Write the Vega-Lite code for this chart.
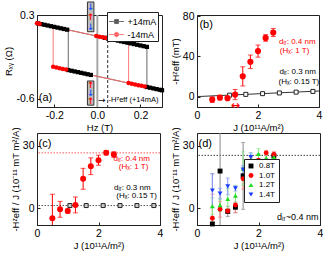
{
  "$schema": "https://vega.github.io/schema/vega-lite/v6.json",
  "padding": {"left": 3, "top": 0, "right": 0, "bottom": 0},
  "bounds": "flush",
  "columns": 2,
  "spacing": {"row": 26, "column": 35},
  "resolve": {
    "scale": {"color": "independent", "shape": "independent", "stroke": "independent", "fill": "independent"},
    "legend": {"color": "independent", "shape": "independent", "stroke": "independent", "fill": "independent"}
  },
  "config": {
    "font": "Liberation Sans",
    "view": {"stroke": "#222222", "strokeWidth": 1},
    "axis": {"grid": false, "domainColor": "#222222", "tickColor": "#222222", "tickSize": -3, "labelPadding": 6, "labelFontSize": 10.5, "titleFontSize": 9.5, "titleFontWeight": "normal", "labelColor": "#000000", "titleColor": "#000000", "titlePadding": 2, "labelFlush": false, "labelOverlap": false},
    "text": {"font": "Liberation Sans"}
  },
  "datasets": {
    "aLines": [
      {"s": "+14mA", "i": 0, "H": -0.28, "R": 0.212},
      {"s": "+14mA", "i": 1, "H": 0.23, "R": -0.043},
      {"s": "+14mA", "i": 2, "H": 0.23, "R": -0.475},
      {"s": "+14mA", "i": 3, "H": 0.3, "R": -0.51},
      {"s": "+14mA", "i": 4, "H": -0.135, "R": -0.2925},
      {"s": "+14mA", "i": 5, "H": -0.135, "R": 0.1395},
      {"s": "-14mA", "i": 0, "H": -0.28, "R": 0.212},
      {"s": "-14mA", "i": 1, "H": 0.145, "R": 0.0},
      {"s": "-14mA", "i": 2, "H": 0.145, "R": -0.4325},
      {"s": "-14mA", "i": 3, "H": 0.3, "R": -0.51},
      {"s": "-14mA", "i": 4, "H": -0.205, "R": -0.2575},
      {"s": "-14mA", "i": 5, "H": -0.205, "R": 0.1745}
    ],
    "aPts": [
      {"s": "+14mA", "H": -0.275, "R": 0.2095}, {"s": "+14mA", "H": -0.26, "R": 0.202}, {"s": "+14mA", "H": -0.245, "R": 0.1945}, {"s": "+14mA", "H": -0.23, "R": 0.187}, {"s": "+14mA", "H": -0.215, "R": 0.1795}, {"s": "+14mA", "H": -0.2, "R": 0.172}, {"s": "+14mA", "H": -0.185, "R": 0.1645}, {"s": "+14mA", "H": -0.17, "R": 0.157}, {"s": "+14mA", "H": -0.155, "R": 0.1495}, {"s": "+14mA", "H": -0.14, "R": 0.142},
      {"s": "+14mA", "H": 0.035, "R": 0.0545},
      {"s": "+14mA", "H": 0.05, "R": 0.047}, {"s": "+14mA", "H": 0.065, "R": 0.0395}, {"s": "+14mA", "H": 0.08, "R": 0.032}, {"s": "+14mA", "H": 0.095, "R": 0.0245}, {"s": "+14mA", "H": 0.11, "R": 0.017}, {"s": "+14mA", "H": 0.125, "R": 0.0095}, {"s": "+14mA", "H": 0.14, "R": 0.002}, {"s": "+14mA", "H": 0.155, "R": -0.0055}, {"s": "+14mA", "H": 0.17, "R": -0.013}, {"s": "+14mA", "H": 0.185, "R": -0.0205}, {"s": "+14mA", "H": 0.2, "R": -0.028}, {"s": "+14mA", "H": 0.215, "R": -0.0355}, {"s": "+14mA", "H": 0.23, "R": -0.043},
      {"s": "+14mA", "H": -0.135, "R": -0.2925}, {"s": "+14mA", "H": -0.12, "R": -0.3}, {"s": "+14mA", "H": -0.105, "R": -0.3075}, {"s": "+14mA", "H": -0.09, "R": -0.315}, {"s": "+14mA", "H": -0.075, "R": -0.3225}, {"s": "+14mA", "H": -0.06, "R": -0.33}, {"s": "+14mA", "H": -0.045, "R": -0.3375}, {"s": "+14mA", "H": -0.03, "R": -0.345},
      {"s": "+14mA", "H": 0.23, "R": -0.475}, {"s": "+14mA", "H": 0.245, "R": -0.4825}, {"s": "+14mA", "H": 0.26, "R": -0.49}, {"s": "+14mA", "H": 0.275, "R": -0.4975}, {"s": "+14mA", "H": 0.29, "R": -0.505}, {"s": "+14mA", "H": 0.3, "R": -0.51},
      {"s": "-14mA", "H": -0.28, "R": 0.212}, {"s": "-14mA", "H": -0.268, "R": 0.206},
      {"s": "-14mA", "H": -0.005, "R": 0.0745}, {"s": "-14mA", "H": 0.01, "R": 0.067}, {"s": "-14mA", "H": 0.025, "R": 0.0595}, {"s": "-14mA", "H": 0.04, "R": 0.052},
      {"s": "-14mA", "H": -0.205, "R": -0.2575}, {"s": "-14mA", "H": -0.19, "R": -0.265}, {"s": "-14mA", "H": -0.175, "R": -0.2725}, {"s": "-14mA", "H": -0.16, "R": -0.28}, {"s": "-14mA", "H": -0.145, "R": -0.2875},
      {"s": "-14mA", "H": 0.145, "R": -0.4325}, {"s": "-14mA", "H": 0.16, "R": -0.44}, {"s": "-14mA", "H": 0.175, "R": -0.4475}, {"s": "-14mA", "H": 0.19, "R": -0.455}, {"s": "-14mA", "H": 0.205, "R": -0.4625}, {"s": "-14mA", "H": 0.22, "R": -0.47}
    ],
    "aBoxes": [
      {"H": -0.046, "H2": -0.016, "R": 0.12, "R2": 0.44},
      {"H": -0.046, "H2": -0.016, "R": -0.67, "R2": -0.41}
    ],
    "aArrows": [
      {"H": -0.031, "R": 0.385, "a": "↓"},
      {"H": -0.031, "R": 0.28, "a": "↑"},
      {"H": -0.031, "R": 0.175, "a": "↓"},
      {"H": -0.031, "R": -0.455, "a": "↑"},
      {"H": -0.031, "R": -0.54, "a": "↓"},
      {"H": -0.031, "R": -0.625, "a": "↑"}
    ],
    "bRed": [
      {"J": 0.5, "v": -2.7, "e": 2.7}, {"J": 0.75, "v": -0.7, "e": 2.3}, {"J": 1.0, "v": -1.3, "e": 1.2},
      {"J": 1.25, "v": 2.3, "e": 5}, {"J": 1.5, "v": 20.3, "e": 9.5}, {"J": 1.75, "v": 34.7, "e": 6.7},
      {"J": 2.0, "v": 45.3, "e": 6}, {"J": 2.25, "v": 58.3, "e": 3.3}, {"J": 2.5, "v": 63.7, "e": 4}
    ],
    "bSq": [
      {"J": 1.07, "v": 1.7}, {"J": 1.6, "v": 2.5}, {"J": 2.15, "v": 3.2}, {"J": 2.7, "v": 3.9}, {"J": 3.25, "v": 4.7}, {"J": 3.8, "v": 5.4}
    ],
    "bLine": [{"J": 0, "v": 0.3}, {"J": 4, "v": 5.8}],
    "cRed": [
      {"J": 0.5, "v": -4.8, "e": 11.5}, {"J": 0.75, "v": -0.5, "e": 3.8}, {"J": 1.0, "v": -1.3, "e": 1.0},
      {"J": 1.25, "v": 1.6, "e": 3.8}, {"J": 1.5, "v": 14.1, "e": 5}, {"J": 1.75, "v": 20.1, "e": 4},
      {"J": 2.0, "v": 23, "e": 2.4}, {"J": 2.25, "v": 26.5, "e": 1.0}, {"J": 2.5, "v": 25.7, "e": 1.3}
    ],
    "cSq": [
      {"J": 1.07, "v": 1.3}, {"J": 1.6, "v": 1.3}, {"J": 2.15, "v": 1.3}, {"J": 2.7, "v": 1.3}, {"J": 3.25, "v": 1.3}, {"J": 3.8, "v": 1.3}
    ],
    "dPts": [
      {"T": "0.8T", "J": 0.5, "v": -7.5, "e": 24}, {"T": "0.8T", "J": 0.75, "v": 17.8, "e": 45}, {"T": "0.8T", "J": 1.0, "v": -1.5, "e": 2.5},
      {"T": "0.8T", "J": 1.25, "v": 0.5, "e": 2.5}, {"T": "0.8T", "J": 1.5, "v": 15.5, "e": 16}, {"T": "0.8T", "J": 1.75, "v": 19, "e": 6},
      {"T": "0.8T", "J": 2.0, "v": 20, "e": 6}, {"T": "0.8T", "J": 2.25, "v": 22.5, "e": 3}, {"T": "0.8T", "J": 2.5, "v": 25, "e": 1.5},
      {"T": "1.0T", "J": 0.5, "v": -4.8, "e": 11.5}, {"T": "1.0T", "J": 0.75, "v": -0.5, "e": 3.8}, {"T": "1.0T", "J": 1.0, "v": -1.3, "e": 1.2},
      {"T": "1.0T", "J": 1.25, "v": 1.6, "e": 3.8}, {"T": "1.0T", "J": 1.5, "v": 14.1, "e": 5}, {"T": "1.0T", "J": 1.75, "v": 20.1, "e": 4},
      {"T": "1.0T", "J": 2.0, "v": 23, "e": 2.4}, {"T": "1.0T", "J": 2.25, "v": 26.5, "e": 1.2}, {"T": "1.0T", "J": 2.5, "v": 25.7, "e": 1.5},
      {"T": "1.2T", "J": 0.5, "v": 1.0, "e": 4}, {"T": "1.2T", "J": 0.75, "v": 1.5, "e": 3}, {"T": "1.2T", "J": 1.0, "v": 4.5, "e": 5},
      {"T": "1.2T", "J": 1.25, "v": 6, "e": 5}, {"T": "1.2T", "J": 1.5, "v": 19, "e": 8}, {"T": "1.2T", "J": 1.75, "v": 23.5, "e": 3},
      {"T": "1.2T", "J": 2.0, "v": 26, "e": 2.5}, {"T": "1.2T", "J": 2.25, "v": 24, "e": 2.5}, {"T": "1.2T", "J": 2.5, "v": 24.5, "e": 1.5},
      {"T": "1.4T", "J": 0.5, "v": 8.5, "e": 8}, {"T": "1.4T", "J": 0.75, "v": 7, "e": 2.5}, {"T": "1.4T", "J": 1.0, "v": 10.5, "e": 4},
      {"T": "1.4T", "J": 1.25, "v": 9.5, "e": 1.2}, {"T": "1.4T", "J": 1.5, "v": 18.5, "e": 2}, {"T": "1.4T", "J": 1.75, "v": 24.5, "e": 2},
      {"T": "1.4T", "J": 2.0, "v": 21, "e": 2.5}, {"T": "1.4T", "J": 2.25, "v": 19.5, "e": 2}, {"T": "1.4T", "J": 2.5, "v": 16, "e": 1.5}
    ]
  },
  "concat": [
    {
      "width": 125,
      "height": 92,
      "layer": [
        {
          "data": {"values": [{"H": 0}]},
          "mark": {"type": "rule", "color": "#a8a8a8", "strokeWidth": 2},
          "encoding": {"x": {"field": "H", "type": "quantitative", "title": "Hz (T)"}}
        },
        {
          "data": {"values": [{"H": 0.048}]},
          "mark": {"type": "rule", "color": "#333333", "strokeWidth": 1, "strokeDash": [3, 2]},
          "encoding": {"x": {"field": "H", "type": "quantitative", "title": "Hz (T)"}}
        },
        {
          "data": {"name": "aLines"},
          "transform": [{"filter": "datum.s == '+14mA'"}],
          "mark": {"type": "line", "color": "#555555", "strokeWidth": 0.9},
          "encoding": {
            "x": {"field": "H", "type": "quantitative", "title": "Hz (T)", "scale": {"domain": [-0.28, 0.3], "nice": false, "zero": false}, "axis": {"values": [-0.2, 0, 0.2], "labelExpr": "replace(format(datum.value, '.1f'), '\u2212', '-')"}},
            "y": {"field": "R", "type": "quantitative", "title": "Rₓᵧ (Ω)", "scale": {"domain": [-0.69, 0.3], "nice": false, "zero": false}, "axis": {"values": [0.3, 0, -0.3, -0.6], "labelExpr": "replace(format(datum.value, '.1f'), '\u2212', '-')"}},
            "order": {"field": "i", "type": "quantitative"}
          }
        },
        {
          "data": {"name": "aLines"},
          "transform": [{"filter": "datum.s == '-14mA'"}],
          "mark": {"type": "line", "color": "#ff6a6a", "strokeWidth": 0.9},
          "encoding": {
            "x": {"field": "H", "type": "quantitative", "title": "Hz (T)"},
            "y": {"field": "R", "type": "quantitative", "title": "Rₓᵧ (Ω)"},
            "order": {"field": "i", "type": "quantitative"}
          }
        },
        {
          "data": {"name": "aPts"},
          "transform": [{"filter": "datum.s == '+14mA'"}],
          "mark": {"type": "point", "shape": "square", "filled": true, "color": "#000000", "size": 18, "opacity": 1},
          "encoding": {
            "x": {"field": "H", "type": "quantitative", "title": "Hz (T)"},
            "y": {"field": "R", "type": "quantitative", "title": "Rₓᵧ (Ω)"}
          }
        },
        {
          "data": {"name": "aPts"},
          "transform": [{"filter": "datum.s == '-14mA'"}],
          "mark": {"type": "point", "shape": "circle", "filled": true, "color": "#ff0000", "size": 20, "opacity": 1},
          "encoding": {
            "x": {"field": "H", "type": "quantitative", "title": "Hz (T)"},
            "y": {"field": "R", "type": "quantitative", "title": "Rₓᵧ (Ω)"}
          }
        },
        {
          "data": {"name": "aBoxes"},
          "mark": {"type": "rect", "fill": "#bdbdbd", "stroke": "#333333", "strokeWidth": 1},
          "encoding": {
            "x": {"field": "H", "type": "quantitative", "title": "Hz (T)"},
            "x2": {"field": "H2"},
            "y": {"field": "R", "type": "quantitative", "title": "Rₓᵧ (Ω)"},
            "y2": {"field": "R2"}
          }
        },
        {
          "data": {"name": "aArrows"},
          "mark": {"type": "text", "fontSize": 9, "fontWeight": "bold", "font": "DejaVu Sans", "baseline": "middle", "align": "center"},
          "encoding": {
            "x": {"field": "H", "type": "quantitative", "title": "Hz (T)"},
            "y": {"field": "R", "type": "quantitative", "title": "Rₓᵧ (Ω)"},
            "text": {"field": "a"},
            "fill": {"field": "a", "type": "nominal", "scale": {"domain": ["↓", "↑"], "range": ["#2255ff", "#ff0000"]}, "legend": null}
          }
        },
        {
          "data": {"values": [{"H": -0.272, "R": -0.59, "t": "(a)"}]},
          "mark": {"type": "text", "fontSize": 11, "align": "left", "baseline": "middle"},
          "encoding": {
            "x": {"field": "H", "type": "quantitative", "title": "Hz (T)"},
            "y": {"field": "R", "type": "quantitative", "title": "Rₓᵧ (Ω)"},
            "text": {"field": "t"}
          }
        },
        {
          "data": {"values": [{"H": 0.003, "R": -0.61, "t": "→"}]},
          "mark": {"type": "text", "fontSize": 9, "align": "left", "baseline": "middle", "font": "DejaVu Sans"},
          "encoding": {
            "x": {"field": "H", "type": "quantitative", "title": "Hz (T)"},
            "y": {"field": "R", "type": "quantitative", "title": "Rₓᵧ (Ω)"},
            "text": {"field": "t"}
          }
        },
        {
          "data": {"values": [{"H": 0.052, "R": -0.61, "t": "-Hᶻeff (+14mA)"}]},
          "mark": {"type": "text", "fontSize": 7.5, "align": "left", "baseline": "middle"},
          "encoding": {
            "x": {"field": "H", "type": "quantitative", "title": "Hz (T)"},
            "y": {"field": "R", "type": "quantitative", "title": "Rₓᵧ (Ω)"},
            "text": {"field": "t"}
          }
        },
        {
          "data": {"values": [{"s": "+14mA"}, {"s": "-14mA"}]},
          "transform": [{"filter": "false"}],
          "mark": {"type": "point", "filled": true, "size": 225, "strokeWidth": 1},
          "encoding": {
            "color": {"field": "s", "type": "nominal", "scale": {"domain": ["+14mA", "-14mA"], "range": ["#000000", "#ff0000"]}, "legend": {"orient": "none", "legendX": 70, "legendY": -3, "title": null, "padding": 1.5, "fillColor": "white", "strokeColor": "#222222", "labelFontSize": 9, "symbolSize": 225, "symbolStrokeWidth": 1, "rowPadding": 0, "labelOffset": 3}},
            "stroke": {"field": "s", "type": "nominal", "scale": {"domain": ["+14mA", "-14mA"], "range": ["#333333", "#ff5050"]}, "legend": {"orient": "none", "legendX": 70, "legendY": -3, "title": null, "padding": 1.5, "fillColor": "white", "strokeColor": "#222222", "labelFontSize": 9, "symbolSize": 225, "symbolStrokeWidth": 1, "rowPadding": 0, "labelOffset": 3}},
            "shape": {"field": "s", "type": "nominal", "scale": {"domain": ["+14mA", "-14mA"], "range": ["M-1,0H1M-0.27,-0.27H0.27V0.27H-0.27Z", "M-1,0H1M0.3,0A0.3,0.3 0 1 1 -0.3,0A0.3,0.3 0 1 1 0.3,0Z"]}, "legend": {"orient": "none", "legendX": 70, "legendY": -3, "title": null, "padding": 1.5, "fillColor": "white", "strokeColor": "#222222", "labelFontSize": 9, "symbolSize": 225, "symbolStrokeWidth": 1, "rowPadding": 0, "labelOffset": 3}}
          }
        }
      ]
    },
    {
      "width": 122,
      "height": 92,
      "layer": [
        {
          "data": {"name": "bLine"},
          "mark": {"type": "line", "color": "#333333", "strokeWidth": 1},
          "encoding": {
            "x": {"field": "J", "type": "quantitative", "title": "J (10¹¹A/m²)", "scale": {"domain": [0, 4], "nice": false}, "axis": {"values": [0, 2, 4]}},
            "y": {"field": "v", "type": "quantitative", "title": "-Hᶻeff (mT)", "scale": {"domain": [-10, 81], "nice": false, "zero": false}, "axis": {"values": [0, 40, 80]}}
          }
        },
        {
          "data": {"name": "bSq"},
          "mark": {"type": "point", "shape": "square", "filled": false, "fill": "#ffffff", "fillOpacity": 1, "stroke": "#222222", "strokeWidth": 1, "size": 16},
          "encoding": {
            "x": {"field": "J", "type": "quantitative", "title": "J (10¹¹A/m²)"},
            "y": {"field": "v", "type": "quantitative", "title": "-Hᶻeff (mT)"}
          }
        },
        {
          "data": {"name": "bRed"},
          "mark": {"type": "errorbar", "color": "#ff0000", "ticks": {"size": 5}, "thickness": 1, "clip": true},
          "encoding": {
            "x": {"field": "J", "type": "quantitative", "title": "J (10¹¹A/m²)"},
            "y": {"field": "v", "type": "quantitative", "title": "-Hᶻeff (mT)"},
            "yError": {"field": "e"}
          }
        },
        {
          "data": {"name": "bRed"},
          "mark": {"type": "point", "shape": "circle", "filled": true, "color": "#ff0000", "size": 38, "opacity": 1},
          "encoding": {
            "x": {"field": "J", "type": "quantitative", "title": "J (10¹¹A/m²)"},
            "y": {"field": "v", "type": "quantitative", "title": "-Hᶻeff (mT)"}
          }
        },
        {
          "data": {"values": [{"J": 0.08, "v": 71, "t": "(b)"}]},
          "mark": {"type": "text", "fontSize": 11, "align": "left", "baseline": "middle"},
          "encoding": {
            "x": {"field": "J", "type": "quantitative", "title": "J (10¹¹A/m²)"},
            "y": {"field": "v", "type": "quantitative", "title": "-Hᶻeff (mT)"},
            "text": {"field": "t"}
          }
        },
        {
          "data": {"values": [{"J": 3.29, "v": 54, "t": "dᵢᵣ: 0.4 nm"}, {"J": 3.2, "v": 45, "t": "(Hₓ: 1 T)"}]},
          "mark": {"type": "text", "fontSize": 8, "align": "center", "baseline": "middle", "color": "#ff0000"},
          "encoding": {
            "x": {"field": "J", "type": "quantitative", "title": "J (10¹¹A/m²)"},
            "y": {"field": "v", "type": "quantitative", "title": "-Hᶻeff (mT)"},
            "text": {"field": "t"}
          }
        },
        {
          "data": {"values": [{"J": 3.3, "v": 24.7, "t": "dᵢᵣ: 0.3 nm"}, {"J": 3.34, "v": 14.7, "t": "(Hₓ: 0.15 T)"}]},
          "mark": {"type": "text", "fontSize": 8, "align": "center", "baseline": "middle", "color": "#000000"},
          "encoding": {
            "x": {"field": "J", "type": "quantitative", "title": "J (10¹¹A/m²)"},
            "y": {"field": "v", "type": "quantitative", "title": "-Hᶻeff (mT)"},
            "text": {"field": "t"}
          }
        },
        {
          "data": {"values": [{"J": 1.26, "v": -9, "t": "↔"}]},
          "mark": {"type": "text", "fontSize": 11, "fontWeight": "bold", "font": "DejaVu Sans", "align": "center", "baseline": "middle", "color": "#ff0000"},
          "encoding": {
            "x": {"field": "J", "type": "quantitative", "title": "J (10¹¹A/m²)"},
            "y": {"field": "v", "type": "quantitative", "title": "-Hᶻeff (mT)"},
            "text": {"field": "t"}
          }
        }
      ]
    },
    {
      "width": 123,
      "height": 92,
      "layer": [
        {
          "data": {"values": [{"v": 26.5}]},
          "mark": {"type": "rule", "color": "#ff5555", "strokeWidth": 1, "strokeDash": [1.5, 1.5]},
          "encoding": {"y": {"field": "v", "type": "quantitative", "title": "-Hᶻeff / J (10⁻¹¹ mT m²/A)", "scale": {"domain": [-8, 36], "nice": false, "zero": false}, "axis": {"values": [0, 10, 20, 30]}}}
        },
        {
          "data": {"values": [{"v": 1.3}]},
          "mark": {"type": "rule", "color": "#555555", "strokeWidth": 1, "strokeDash": [1.5, 1.5]},
          "encoding": {"y": {"field": "v", "type": "quantitative", "title": "-Hᶻeff / J (10⁻¹¹ mT m²/A)"}}
        },
        {
          "data": {"name": "cSq"},
          "mark": {"type": "point", "shape": "square", "filled": false, "fill": "#cccccc", "fillOpacity": 1, "stroke": "#222222", "strokeWidth": 1, "size": 16},
          "encoding": {
            "x": {"field": "J", "type": "quantitative", "title": "J (10¹¹A/m²)", "scale": {"domain": [0, 4], "nice": false}, "axis": {"values": [0, 2, 4]}},
            "y": {"field": "v", "type": "quantitative", "title": "-Hᶻeff / J (10⁻¹¹ mT m²/A)"}
          }
        },
        {
          "data": {"name": "cRed"},
          "mark": {"type": "errorbar", "color": "#ff0000", "ticks": {"size": 5}, "thickness": 1, "clip": true},
          "encoding": {
            "x": {"field": "J", "type": "quantitative", "title": "J (10¹¹A/m²)"},
            "y": {"field": "v", "type": "quantitative", "title": "-Hᶻeff / J (10⁻¹¹ mT m²/A)"},
            "yError": {"field": "e"}
          }
        },
        {
          "data": {"name": "cRed"},
          "mark": {"type": "point", "shape": "circle", "filled": true, "color": "#ff0000", "size": 36, "opacity": 1},
          "encoding": {
            "x": {"field": "J", "type": "quantitative", "title": "J (10¹¹A/m²)"},
            "y": {"field": "v", "type": "quantitative", "title": "-Hᶻeff / J (10⁻¹¹ mT m²/A)"}
          }
        },
        {
          "data": {"values": [{"J": 0.05, "v": 30.8, "t": "(c)"}]},
          "mark": {"type": "text", "fontSize": 11, "align": "left", "baseline": "middle"},
          "encoding": {
            "x": {"field": "J", "type": "quantitative", "title": "J (10¹¹A/m²)"},
            "y": {"field": "v", "type": "quantitative", "title": "-Hᶻeff / J (10⁻¹¹ mT m²/A)"},
            "text": {"field": "t"}
          }
        },
        {
          "data": {"values": [{"J": 3.08, "v": 23.8, "t": "dᵢᵣ: 0.4 nm"}, {"J": 3.14, "v": 19.8, "t": "(Hₓ: 1 T)"}]},
          "mark": {"type": "text", "fontSize": 8, "align": "center", "baseline": "middle", "color": "#ff0000"},
          "encoding": {
            "x": {"field": "J", "type": "quantitative", "title": "J (10¹¹A/m²)"},
            "y": {"field": "v", "type": "quantitative", "title": "-Hᶻeff / J (10⁻¹¹ mT m²/A)"},
            "text": {"field": "t"}
          }
        },
        {
          "data": {"values": [{"J": 3.1, "v": 9.8, "t": "dᵢᵣ: 0.3 nm"}, {"J": 3.24, "v": 5.9, "t": "(Hₓ: 0.15 T)"}]},
          "mark": {"type": "text", "fontSize": 8, "align": "center", "baseline": "middle", "color": "#000000"},
          "encoding": {
            "x": {"field": "J", "type": "quantitative", "title": "J (10¹¹A/m²)"},
            "y": {"field": "v", "type": "quantitative", "title": "-Hᶻeff / J (10⁻¹¹ mT m²/A)"},
            "text": {"field": "t"}
          }
        }
      ]
    },
    {
      "width": 123,
      "height": 92,
      "layer": [
        {
          "data": {"values": [{"v": 25.3}]},
          "mark": {"type": "rule", "color": "#444444", "strokeWidth": 1, "strokeDash": [1.5, 1.5]},
          "encoding": {"y": {"field": "v", "type": "quantitative", "title": "-Hᶻeff / J (10⁻¹¹ mT m²/A)", "scale": {"domain": [-8, 36], "nice": false, "zero": false}, "axis": {"values": [0, 10, 20, 30]}}}
        },
        {
          "data": {"name": "dPts"},
          "transform": [{"filter": "datum.T == '0.8T'"}],
          "mark": {"type": "errorbar", "color": "#8a8a8a", "ticks": {"size": 4}, "thickness": 1, "clip": true},
          "encoding": {
            "x": {"field": "J", "type": "quantitative", "title": "J (10¹¹A/m²)", "scale": {"domain": [0, 4], "nice": false}, "axis": {"values": [0, 2, 4]}},
            "y": {"field": "v", "type": "quantitative", "title": "-Hᶻeff / J (10⁻¹¹ mT m²/A)"},
            "yError": {"field": "e"}
          }
        },
        {
          "data": {"name": "dPts"},
          "transform": [{"filter": "datum.T == '1.0T'"}],
          "mark": {"type": "errorbar", "color": "#ff8080", "ticks": {"size": 4}, "thickness": 1, "clip": true},
          "encoding": {
            "x": {"field": "J", "type": "quantitative", "title": "J (10¹¹A/m²)"},
            "y": {"field": "v", "type": "quantitative", "title": "-Hᶻeff / J (10⁻¹¹ mT m²/A)"},
            "yError": {"field": "e"}
          }
        },
        {
          "data": {"name": "dPts"},
          "transform": [{"filter": "datum.T == '1.2T'"}],
          "mark": {"type": "errorbar", "color": "#88e888", "ticks": {"size": 4}, "thickness": 1, "clip": true},
          "encoding": {
            "x": {"field": "J", "type": "quantitative", "title": "J (10¹¹A/m²)"},
            "y": {"field": "v", "type": "quantitative", "title": "-Hᶻeff / J (10⁻¹¹ mT m²/A)"},
            "yError": {"field": "e"}
          }
        },
        {
          "data": {"name": "dPts"},
          "transform": [{"filter": "datum.T == '1.4T'"}],
          "mark": {"type": "errorbar", "color": "#8898ff", "ticks": {"size": 4}, "thickness": 1, "clip": true},
          "encoding": {
            "x": {"field": "J", "type": "quantitative", "title": "J (10¹¹A/m²)"},
            "y": {"field": "v", "type": "quantitative", "title": "-Hᶻeff / J (10⁻¹¹ mT m²/A)"},
            "yError": {"field": "e"}
          }
        },
        {
          "data": {"name": "dPts"},
          "mark": {"type": "point", "filled": true, "size": 24, "opacity": 1},
          "encoding": {
            "x": {"field": "J", "type": "quantitative", "title": "J (10¹¹A/m²)"},
            "y": {"field": "v", "type": "quantitative", "title": "-Hᶻeff / J (10⁻¹¹ mT m²/A)"},
            "color": {"field": "T", "type": "nominal", "scale": {"domain": ["0.8T", "1.0T", "1.2T", "1.4T"], "range": ["#000000", "#ff0000", "#22dd22", "#1a3cff"]}, "legend": {"orient": "none", "legendX": 47, "legendY": 26, "title": null, "padding": 3, "fillColor": "white", "strokeColor": "#222222", "labelFontSize": 8, "symbolSize": 24, "rowPadding": 1.5, "labelOffset": 4}},
            "shape": {"field": "T", "type": "nominal", "scale": {"domain": ["0.8T", "1.0T", "1.2T", "1.4T"], "range": ["square", "circle", "triangle-up", "triangle-down"]}, "legend": {"orient": "none", "legendX": 47, "legendY": 26, "title": null, "padding": 3, "fillColor": "white", "strokeColor": "#222222", "labelFontSize": 8, "symbolSize": 24, "rowPadding": 1.5, "labelOffset": 4}}
          }
        },
        {
          "data": {"values": [{"J": 0.05, "v": 30.8, "t": "(d)"}]},
          "mark": {"type": "text", "fontSize": 11, "align": "left", "baseline": "middle"},
          "encoding": {
            "x": {"field": "J", "type": "quantitative", "title": "J (10¹¹A/m²)"},
            "y": {"field": "v", "type": "quantitative", "title": "-Hᶻeff / J (10⁻¹¹ mT m²/A)"},
            "text": {"field": "t"}
          }
        },
        {
          "data": {"values": [{"J": 3.95, "v": -4.2, "t": "dᵢᵣ~0.4 nm"}]},
          "mark": {"type": "text", "fontSize": 9, "align": "right", "baseline": "middle"},
          "encoding": {
            "x": {"field": "J", "type": "quantitative", "title": "J (10¹¹A/m²)"},
            "y": {"field": "v", "type": "quantitative", "title": "-Hᶻeff / J (10⁻¹¹ mT m²/A)"},
            "text": {"field": "t"}
          }
        }
      ]
    }
  ]
}
